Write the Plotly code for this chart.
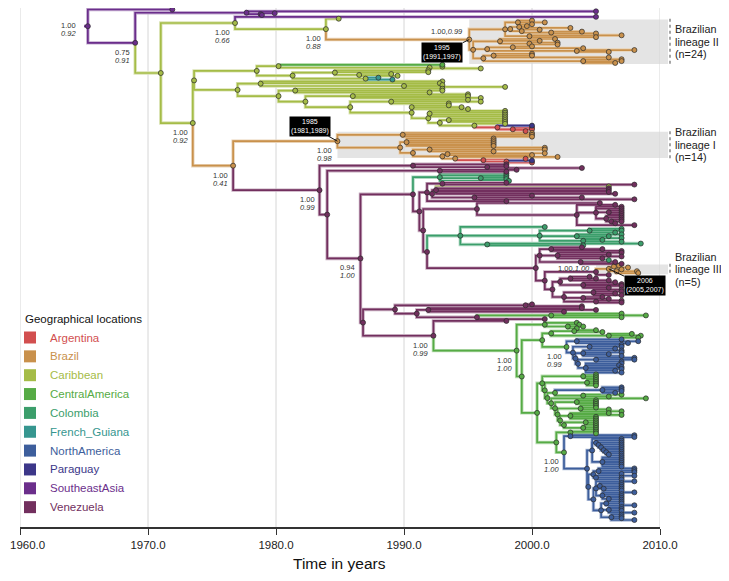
import plotly.graph_objects as go

# ---------------- data ----------------
LOCATIONS = ["Argentina", "Brazil", "Caribbean", "CentralAmerica", "Colombia",
             "French_Guiana", "NorthAmerica", "Paraguay", "SoutheastAsia", "Venezuela"]
LOC_CODES = ["AR", "BR", "CB", "CA", "CO", "FG", "NA", "PA", "SE", "VE"]
LOC_COLORS = ["#d24f4f", "#c9914c", "#a5bc47", "#56ab45", "#3b9e6b",
              "#36968f", "#3d5e9c", "#3c3789", "#6b2e8b", "#722f5e"]

# Tree pieces: "LOC[|name]:date" (dates are node heights in calendar years)
SE_BUNDLE = "(SE:2005.0,(SE:1979.9,SE:1978.9)SE:1978.8)SE:1977.7"
BR2_TOP = ("((BR:2000.0,BR:2001.0,BR:2000.0)BR:1998.9,((BR:1999.6,BR:2003.0)BR:1999.0,"
           "(BR:2000.6,(BR:2003.9,BR:2005.0)BR:2001.5)BR:1999.2)BR:1998.3,(BR:2007.0,BR:2005.0)BR:1999.8)BR:1997.9")
BR2_BOTTOM = ("((BR:2001.8,BR:2000.6,(BR:2002.0,BR:2002.0)BR:1999.8)BR:1997.5,((BR:2000.0,BR:2004.0)BR:1998.5,"
              "(BR:2008.0,BR:2006.0)BR:2003.5)BR:1996.5,((BR:2000.0,BR:2000.0,BR:2006.0)BR:1997.0,"
              "(BR:2007.0,BR:2007.0,BR:2006.5)BR:2004.0)BR:1996.2)BR:1995.4")
CARIB_A = ("((CA:1993.0,(CB:1993.0,CB:1996.0)CB:1992.0)CB:1980.2,((CB:1991.9,CB:1991.9,"
           "(CB:1989.0,CB:1989.5)CB:1986.5)CB:1984.6,(FG:1988.0,FG:1989.1)CB:1987.0)CB:1981.3)CB:1978.5")
CARIB_B = ("((CB:1993.0,CB:1992.8,(CB:1993.0,CB:1997.9)CB:1990.0)CB:1978.8,((CB:1993.0,CB:1993.0,CB:1992.0)CB:1981.5,"
           "((CB:1995.0,CB:1995.0,CB:1996.0)CB:1986.0,((CB:1995.0,CB:1996.0,CB:1993.5)CB:1989.0,"
           "((CB:1993.5,CB:1994.5,CB:1995.0)CB:1990.6,((CB:1997.9,CB:1997.9,CB:1997.9,CB:1997.9)CB:1992.0,"
           "((CB:1997.9,CB:1997.9,CB:1997.9)CB:1993.5,(CB:1997.9,(PA:2000.0,(AR:2000.0,AR:2000.0,AR:1999.5)AR:1998.5)AR:1997.3)CB:1995.5)"
           "CB:1992.8)CB:1991.9)CB:1990.6)CB:1985.8)CB:1982.3)CB:1980.2)CB:1977.0")
BR1 = ("((BR:2000.0,BR:2000.0,BR:2000.0)BR:1989.9,((BR:1997.0,BR:1997.0,BR:1997.0,BR:1997.0,BR:1997.0)BR:1990.2,"
       "((BR:2001.0,BR:2001.0,BR:1997.0)BR:1992.0,((BR:2001.0,BR:2000.0)BR:1993.4,(BR:2002.0,(AR:1999.5,"
       "(PA:2000.0,AR:2000.0)AR:1998.0)AR:1996.2)BR:1994.0)BR:1993.0)BR:1990.7)BR:1989.7)BR|br1:1984.8")
VE_A = "(VE:1998.0,(VE:1998.0,VE:2003.9)VE:1996.5)VE:1990.7"
VE_B1 = "(VE:1998.8,VE:1998.0)VE:1992.8"
C1A = "(CO:1998.0,CO:1998.0,(CO:1998.0,CO:1998.0)CO:1996.0,CO:1998.2)CO:1992.8"
BLOCK1 = ("((VE:1998.0,VE:2008.0)VE:1993.0,((CB:2006.0,VE:2006.0,VE:2006.0,VE:2006.0,VE:2006.5)VE:1992.5,"
          "(VE:2000.0,VE:2003.9,VE:2008.0)VE:1995.5)VE:1992.2,VE:1998.0)VE:1991.8")
C1B = ("(VE:2005.3,(VE:2006.5,(VE:2007.0,VE:2007.0,(VE:2007.0,VE:2007.0,VE:2007.0)VE:2006.0,"
       "(VE:2007.0,VE:2007.0,(VE:2007.0,VE:2007.0,VE:2006.5)VE:2006.2)VE:2005.8)VE:2005.0,VE:2008.0)VE:2003.5)VE:1995.7")
C1C = ("(CO:2001.0,((CO:2007.0,CO:2007.0,CO:2006.5)CO:2004.5,(CO:2007.0,CO:2006.0,CO:2007.0)CO:2003.5,"
       "(CO:2005.5,CO:2007.0)CO:2004.0)CO:2000.6,(CO:2008.5,CO:2004.0)CO:1996.5)CO:1994.4")
BR3 = "((BR:2006.8,BR:2007.5)BR:2006.4,(BR:2007.0,BR:2008.2,BR:2008.3)BR:2006.6)BR|br3:2006.0"
C1D_1 = ("((VE:2003.9,VE:2005.5,VE:2007.0)VE:2001.5,(VE:2007.0,VE:2006.0,VE:2007.0,VE:2005.5)VE:2002.0,"
         "(CO:2006.0,VE:2006.5,VE:2007.0)VE:2003.8)VE:2000.6")
C1D_3 = "((VE:2004.5,VE:2005.0,VE:2006.0)VE:2003.0,(VE:2006.5,VE:2007.0,VE:2007.0,VE:2006.0)VE:2004.0)VE:2002.2"
C1D_4 = ("((VE:2007.0,VE:2007.0,VE:2006.5,VE:2007.0)VE:2004.8,(VE:2005.5,VE:2006.0)VE:2004.0,"
         "(VE:2007.0,VE:2007.0)VE:2005.0)VE:2002.5")
V6 = ("((VE:2000.0,VE:2003.9)VE:1999.5,((VE:2003.9,VE:2005.0,VE:2002.5)VE:1991.9,"
      "((CA:2007.0,CA:2008.9,CA:2007.0)CA:2001.5,VE:2001.0)VE:1995.7)VE:1991.0)VE:1989.3")
F1A = "(CA:2003.5,(CA:2003.7,CA:2004.0,CA:2003.5)CA:2002.8)CA:2001.0"
F1B = "((CA:2005.0,CA:2005.5)CA:2003.3,(CA:2007.8,CA:2008.5,CA:2008.3)CA:2006.0)CA:2001.5"
NA1_REST = ("((NA:2008.0,NA:2008.0,NA:2007.0)NA:2005.0,(NA:2007.0,NA:2006.8,NA:2007.0,NA:2007.0,NA:2006.5,NA:2007.0)"
            "NA:2004.2)NA:2003.6")
HS = ("((CA:2005.0,CA:2005.0,CA:2005.0)CA:2004.0,((CA:2005.0,CA:2005.0,CA:2005.0,CA:2005.0)CA:2004.3,"
      "(((NA:2007.0,NA:2007.0,NA:2007.0,NA:2006.5)NA:2005.5,(CA:2007.0,CA:2006.0)CA:2004.0)CA:2001.8,"
      "(CA:2008.9,((CA:2005.0,CA:2005.0,CA:2005.0)CA:2003.5,((CA:2005.0,CA:2005.0,CA:2006.0,CA:2007.0)CA:2003.8,"
      "((CA:2006.0,CA:2007.0,CA:2005.0,CA:2005.0)CA:2003.0,((CA:2005.0,CA:2005.0,CA:2005.0)CA:2004.2,"
      "(CA:2005.0,CA:2005.0,CA:2005.0)CA:2004.0)CA:2002.5)CA:2002.2)CA:2002.0)CA:2001.8)CA:2001.5)CA:2001.2)"
      "CA:2001.0)CA:2000.8")
NA2_U = ("(NA:2007.0,(NA:2007.0,(NA:2007.0,(NA:2007.0,NA:2007.0,(NA:2007.0,(NA:2007.0,NA:2007.0,"
         "(NA:2007.0,NA:2007.0)NA:2006.0)NA:2005.8)NA:2005.6)NA:2005.4)NA:2005.2)NA:2005.0,"
         "(NA:2007.0,NA:2007.0,NA:2007.0,NA:2007.0,NA:2007.0,NA:2007.0)NA:2005.5)NA:2004.7")
NA2_L1 = "((NA:2008.0,NA:2008.0,NA:2008.0,NA:2007.0)NA:2005.2,(NA:2008.0,NA:2007.0,NA:2007.0)NA:2005.0)NA:2004.8"
NA2_L2 = ("(NA:2008.0,(NA:2007.0,NA:2007.0,(NA:2007.0,NA:2007.0,NA:2007.0)NA:2005.6)NA:2005.3,"
          "(NA:2008.0,NA:2007.0,NA:2007.0,(NA:2007.0,NA:2007.0)NA:2006.0)NA:2005.5)NA:2005.0")
NA2_L3 = ("((NA:2007.0,NA:2007.0,NA:2008.0)NA:2005.8,(NA:2007.0,NA:2007.0,NA:2007.0,NA:2008.0)NA:2006.0,"
          "(NA:2007.0,NA:2007.0,NA:2007.0,NA:2008.0)NA:2006.2)NA:2005.4")

# assemble the full tree
BR2 = f"({BR2_TOP},{BR2_BOTTOM})BR|br2:1995.1"
N326 = f"(CB:1984.9,{BR2})CB|n326:1983.9"
N235 = f"(SE:2005.0,{N326})CB|n235:1976.8"
CARIB = f"({CARIB_A},{CARIB_B})CB:1973.6"
C1D_2 = f"({BR3},VE:2006.0)VE|br3p:2005.0"
C1D = f"({C1D_1},({C1D_2},({C1D_3},{C1D_4})VE:2001.6)VE:2001.0)VE:2000.3"
C1 = f"({C1A},({BLOCK1},({C1B},({C1C},{C1D})VE:1991.8)VE:1991.5)VE:1991.2)VE:1990.7"
NA1 = (f"((NA:2007.0,NA:2008.3,NA:2007.5)NA:2003.5,((NA:2007.0,NA:2007.0,NA:2006.5)NA:2004.5,"
       f"((NA:2007.0,NA:2007.0,NA:2006.0,NA:2007.0)NA:2004.0,{NA1_REST})NA:2003.4)NA:2003.2)CA|na1:2002.7")
NA2 = (f"((NA:2008.0,NA:2008.0)NA:2003.0,({NA2_U},({NA2_L1},({NA2_L2},{NA2_L3})NA:2004.8)NA:2004.4)NA:2004.3)"
       f"CA|na2:2002.5")
NA2P = f"((CA:2005.0,CA:2005.0)CA:2003.0,{NA2})CA:2001.9"
H_NODE = f"({HS},{NA2P})CA:2000.4"
G_NODE = f"(({F1B},{NA1})CA:2000.8,{H_NODE})CA:1999.2"
CM_ROOT = f"({F1A},{G_NODE})CA|cm:1998.8"
E_NODE = f"(VE:1998.0,{CM_ROOT})VE|e:1992.3"
C_NODE = f"({C1},({V6},{E_NODE})VE:1986.8)VE|c094:1986.6"
VE_ROOT = f"({VE_A},({VE_B1},{C_NODE})VE:1984.0)VE|ve:1983.4"
N233 = f"({BR1},{VE_ROOT})BR|n233:1976.65"
N193 = f"({CARIB},{N233})CB|n193:1973.5"
N1969 = f"({SE_BUNDLE},({N235},{N193})CB:1971.0)SE|n1969:1969.0"
TREE = f"(SE:1971.9,{N1969})SE|root:1965.3"
ROOT_STUB_START = 1965.0

SUPPORT_NODES = ["root", "n1969", "n235", "n326", "n193", "n233", "br1", "ve", "c094", "e", "cm", "na1", "na2"]
SUPPORT_POST = ["1.00", "0.75", "1.00", "1.00", "1.00", "1.00", "1.00", "1.00", "0.94", "1.00", "1.00", "1.00", "1.00"]
SUPPORT_PP = ["0.92", "0.91", "0.66", "0.88", "0.92", "0.41", "0.98", "0.99", "1.00", "0.99", "1.00", "0.99", "1.00"]

INLINE_NODES = ["br2", "br3"]
INLINE_POST = ["1.00", "1.00"]
INLINE_PP = ["0.99", "1.00"]

DATE_NODES = ["br2", "br1", "br3"]
DATE_MEAN = ["1995", "1985", "2006"]
DATE_HPD = ["(1991,1997)", "(1981,1989)", "(2005,2007)"]

LINEAGE_NODES = ["br2", "br1", "br3"]
LINEAGE_NAMES = ["II", "I", "III"]
LINEAGE_N = [24, 14, 5]
LINEAGE_BOX_START = [1995.1, 1984.8, 2005.0]

X_TICKS = [1960, 1970, 1980, 1990, 2000, 2010]
X_TICK_TEXT = ["1960.0", "1970.0", "1980.0", "1990.0", "2000.0", "2010.0"]
X_TITLE = "Time in years"
LEGEND_TITLE = "Geographical locations"


# ---------------- tree parsing / layout ----------------
def parse(s):
    s = "".join(s.split())
    pos = 0

    def node():
        nonlocal pos
        children = []
        if s[pos] == "(":
            pos += 1
            children.append(node())
            while s[pos] == ",":
                pos += 1
                children.append(node())
            pos += 1  # ')'
        start = pos
        while s[pos] != ":":
            pos += 1
        label = s[start:pos]
        pos += 1
        start = pos
        while pos < len(s) and s[pos] not in ",)":
            pos += 1
        date = float(s[start:pos])
        loc, _, name = label.partition("|")
        return {"loc": loc, "name": name, "date": date, "children": children}

    return node()


root = parse(TREE)
tips, nodes, named = [], [], {}


def layout(n, parent=None):
    n["parent"] = parent
    nodes.append(n)
    if n["name"]:
        named[n["name"]] = n
    if not n["children"]:
        n["y"] = float(len(tips))
        tips.append(n)
    else:
        for c in n["children"]:
            layout(c, n)
        n["y"] = (n["children"][0]["y"] + n["children"][-1]["y"]) / 2.0


layout(root)


def subtree_tips(n):
    if not n["children"]:
        return [n]
    out = []
    for c in n["children"]:
        out += subtree_tips(c)
    return out


COLOR = dict(zip(LOC_CODES, LOC_COLORS))


def tint(hexc, f):
    r, g, b = int(hexc[1:3], 16), int(hexc[3:5], 16), int(hexc[5:7], 16)
    r, g, b = [int(v + (255 - v) * f) for v in (r, g, b)]
    return f"rgb({r},{g},{b})"


# ---------------- page geometry (page body adds an 8px margin on every side) ----------------
OFF = 8
W, H_PX = 729 - 2 * OFF, 581 - 2 * OFF
ML, MT = 20 - OFF, 0
PW, PH = 640, 527 - OFF
MR, MB = W - ML - PW, H_PX - MT - PH
NT = len(tips)
TOP_PX, BOT_PX = 1.5, 520.0 - OFF          # figure pixel rows of first / last tip
PX_PER_TIP = (BOT_PX - TOP_PX) / (NT - 1)
Y_TOP = -TOP_PX / PX_PER_TIP
Y_BOT = Y_TOP + PH / PX_PER_TIP


def pxx(px):  # window pixel -> paper x
    return (px - OFF - ML) / PW


def pxy(py):  # window pixel -> paper y
    return 1 - (py - OFF - MT) / PH


fig = go.Figure()

# branches grouped by location
segs = {c: ([], []) for c in LOC_CODES}
for n in nodes:
    p = n["parent"]
    xs, ys = segs[n["loc"]]
    if p is None:
        xs += [ROOT_STUB_START, n["date"], None]
        ys += [n["y"], n["y"], None]
    else:
        xs += [p["date"], p["date"], n["date"], None]
        ys += [p["y"], n["y"], n["y"], None]

for code in LOC_CODES:
    xs, ys = segs[code]
    if not xs:
        continue
    fig.add_trace(go.Scatter(x=xs, y=ys, mode="lines", hoverinfo="skip",
                             line=dict(color=tint(COLOR[code], 0.6), width=3.4)))
    fig.add_trace(go.Scatter(x=xs, y=ys, mode="lines", hoverinfo="skip",
                             line=dict(color=COLOR[code], width=1.7)))

for code in LOC_CODES:
    pts = [n for n in nodes if n["loc"] == code]
    if not pts:
        continue
    fig.add_trace(go.Scatter(x=[n["date"] for n in pts], y=[n["y"] for n in pts], mode="markers",
                             hoverinfo="skip", cliponaxis=False,
                             marker=dict(size=5, color=COLOR[code],
                                         line=dict(color="rgba(45,45,45,0.9)", width=0.8))))

shapes, ann = [], []

# lineage boxes and labels
for nm, lab, cnt, x0 in zip(LINEAGE_NODES, LINEAGE_NAMES, LINEAGE_N, LINEAGE_BOX_START):
    br_tips = [t for t in subtree_tips(named[nm]) if t["loc"] == "BR"]
    y0 = br_tips[0]["y"] - 0.6
    y1 = br_tips[-1]["y"] + 0.6
    shapes.append(dict(type="rect", xref="paper", yref="y", x0=(x0 - 1960) / 50.0, x1=pxx(668),
                       y0=y0, y1=y1, fillcolor="#e4e4e4", line=dict(width=0), layer="below"))
    shapes.append(dict(type="line", xref="paper", yref="y", x0=pxx(670), x1=pxx(670),
                       y0=y0 - 0.4, y1=y1 + 0.4, line=dict(color="#888", width=1.5, dash="dot")))
    ym = (y0 + y1) / 2
    for txt, sh in zip(["Brazilian", f"lineage {lab}", f"(n={cnt})"], [12.5, 0, -12.5]):
        ann.append(dict(text=txt, xref="paper", yref="y", x=pxx(673), y=ym, yshift=sh,
                        xanchor="left", yanchor="middle", showarrow=False,
                        font=dict(size=10.8, color="#222")))

# support labels (posterior / second value italic)
for nm, a, b in zip(SUPPORT_NODES, SUPPORT_POST, SUPPORT_PP):
    n = named[nm]
    if nm == "root":
        xs_, y1s, y2s = -10, 7, -1
    else:
        xs_, y1s, y2s = -3, -3, -11
    ann.append(dict(text=a, x=n["date"], y=n["y"], xref="x", yref="y", xshift=xs_, yshift=y1s,
                    xanchor="right", yanchor="top", showarrow=False, font=dict(size=7.5, color="#333")))
    ann.append(dict(text=f"<i>{b}</i>", x=n["date"], y=n["y"], xref="x", yref="y", xshift=xs_, yshift=y2s,
                    xanchor="right", yanchor="top", showarrow=False, font=dict(size=7.5, color="#333")))

for nm, a, b in zip(INLINE_NODES, INLINE_POST, INLINE_PP):
    n = named[nm]
    if nm == "br3":
        xx, xs_, ys_, ya = n["parent"]["date"], -4, 0, "middle"
    else:
        xx, xs_, ys_, ya = n["date"], -4, 2, "bottom"
    ann.append(dict(text=f"{a},<i>{b}</i>", x=xx, y=n["y"], xref="x", yref="y", xshift=xs_, yshift=ys_,
                    xanchor="right", yanchor=ya, showarrow=False, font=dict(size=7.5, color="#333")))

# TMRCA boxes
for nm, m, hpd, off in zip(DATE_NODES, DATE_MEAN, DATE_HPD, [(-27, 13), (-27, -15), (36, 17)]):
    n = named[nm]
    ann.append(dict(text=f"{m}<br>{hpd}", x=n["date"], y=n["y"], xref="x", yref="y",
                    ax=off[0], ay=off[1], showarrow=True, arrowhead=0, arrowwidth=1,
                    arrowcolor="#111", standoff=0, bgcolor="black", borderpad=1,
                    font=dict(size=7, color="white")))

# legend
ann.append(dict(text=LEGEND_TITLE, xref="paper", yref="paper", x=pxx(23), y=pxy(319),
                xanchor="left", yanchor="middle", showarrow=False, font=dict(size=11.5, color="#111")))
for i, (name, col) in enumerate(zip(LOCATIONS, LOC_COLORS)):
    cy = 337.5 + i * 18.85
    shapes.append(dict(type="rect", xref="paper", yref="paper", x0=pxx(24), x1=pxx(36),
                       y0=pxy(cy + 6), y1=pxy(cy - 6), fillcolor=col, line=dict(width=0)))
    ann.append(dict(text=name, xref="paper", yref="paper", x=pxx(48), y=pxy(cy),
                    xanchor="left", yanchor="middle", showarrow=False, font=dict(size=11.5, color=col)))

# first tick label sits at the page edge: draw it as a left-anchored label
tick_labels = list(X_TICK_TEXT)
ann.append(dict(text=tick_labels[0], xref="paper", yref="paper", x=pxx(OFF), y=pxy(545),
                xanchor="left", yanchor="middle", showarrow=False, font=dict(size=11.5, color="#222")))
tick_labels[0] = ""

# axis title (kept inside the page bottom)
ann.append(dict(text=X_TITLE, xref="paper", yref="paper", x=pxx(339), y=pxy(563.5),
                xanchor="center", yanchor="middle", showarrow=False, font=dict(size=15.5, color="#111")))

# gridlines
for t in X_TICKS:
    shapes.append(dict(type="line", xref="x", yref="paper", x0=t, x1=t, y0=0, y1=1,
                       line=dict(color="#d6d6d6", width=1), layer="below"))

fig.update_layout(
    width=W, height=H_PX, margin=dict(l=ML, r=MR, t=MT, b=MB),
    plot_bgcolor="white", paper_bgcolor="white", showlegend=False,
    font=dict(family="Liberation Sans, Arial, sans-serif"),
    shapes=shapes, annotations=ann,
    xaxis=dict(range=[1960, 2010], tickvals=X_TICKS, ticktext=tick_labels, showgrid=False,
               zeroline=False, showline=True, linecolor="#333", linewidth=1.5,
               ticks="outside", ticklen=6, tickcolor="#333", tickwidth=1.2,
               tickfont=dict(size=11.5, color="#222")),
    yaxis=dict(range=[Y_BOT, Y_TOP], visible=False, showgrid=False, zeroline=False),
)

fig.write_html("out.html")
